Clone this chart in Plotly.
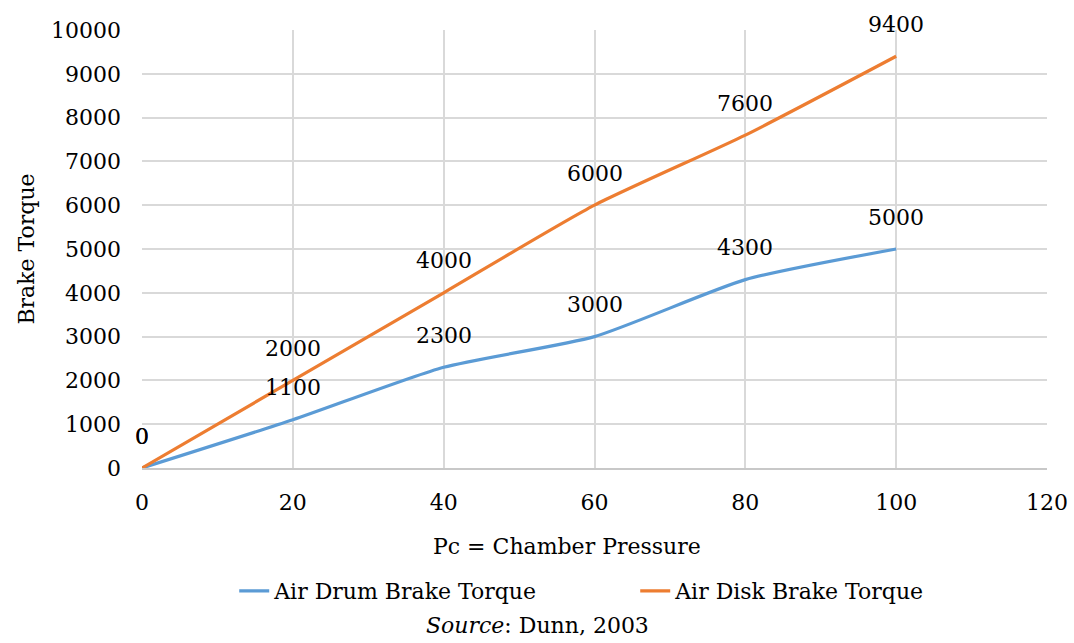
import plotly.graph_objects as go

pressure = [0, 20, 40, 60, 80, 100]
drum = [0, 1100, 2300, 3000, 4300, 5000]
disk = [0, 2000, 4000, 6000, 7600, 9400]
x_ticks = [0, 20, 40, 60, 80, 100, 120]
y_ticks = [0, 1000, 2000, 3000, 4000, 5000, 6000, 7000, 8000, 9000, 10000]

FONT = "DejaVu Serif"
FS = 22
BLUE = "#5b9bd5"
ORANGE = "#ed7d31"

fig = go.Figure()
fig.add_trace(go.Scatter(x=pressure, y=drum, mode="lines", name="Air Drum Brake Torque",
                         line=dict(color=BLUE, width=3.2, shape="spline", smoothing=0.6)))
fig.add_trace(go.Scatter(x=pressure, y=disk, mode="lines", name="Air Disk Brake Torque",
                         line=dict(color=ORANGE, width=3.2, shape="spline", smoothing=0.6)))

annotations = []
for xs, ys in ((pressure, drum), (pressure, disk)):
    for xv, yv in zip(xs, ys):
        annotations.append(dict(x=xv, y=yv, xref="x", yref="y", text=str(yv), showarrow=False,
                                yshift=32, font=dict(family=FONT, size=FS, color="#000")))
# x-axis title (placed to match the reference's off-centre position)
annotations.append(dict(x=0.4696, y=-0.180, xref="paper", yref="paper", yanchor="middle",
                        text="Pc = Chamber Pressure", showarrow=False,
                        font=dict(family=FONT, size=FS, color="#000")))
annotations.append(dict(x=0.4365, y=-0.359, xref="paper", yref="paper", yanchor="middle",
                        text="<i>Source</i>: Dunn, 2003", showarrow=False,
                        font=dict(family=FONT, size=FS, color="#000")))

fig.update_layout(
    width=1074, height=643,
    margin=dict(l=142, r=27, t=30, b=175, autoexpand=False),
    paper_bgcolor="white", plot_bgcolor="white",
    font=dict(family=FONT, size=FS, color="#000"),
    xaxis=dict(range=[0, 120], tickvals=x_ticks, showgrid=True, gridcolor="#d9d9d9", gridwidth=1.5,
               zeroline=False, showline=True, linecolor="#c8c8c8", linewidth=1.5, automargin=False,
               ticks="", ticklabelstandoff=14, tickformat="d"),
    yaxis=dict(range=[0, 10000], tickvals=y_ticks, showgrid=True, gridcolor="#d9d9d9", gridwidth=1.5,
               zeroline=False, showline=False, ticks="", ticklabelstandoff=20, tickformat="d",
               automargin=False,
               title=dict(text="Brake Torque", font=dict(family=FONT, size=FS), standoff=10)),
    legend=dict(orientation="h", x=0.545, xanchor="center", y=-0.281, yanchor="middle",
                font=dict(family=FONT, size=FS), itemwidth=30, entrywidth=356),
    annotations=annotations,
    showlegend=True,
)

fig.write_html("out.html")
